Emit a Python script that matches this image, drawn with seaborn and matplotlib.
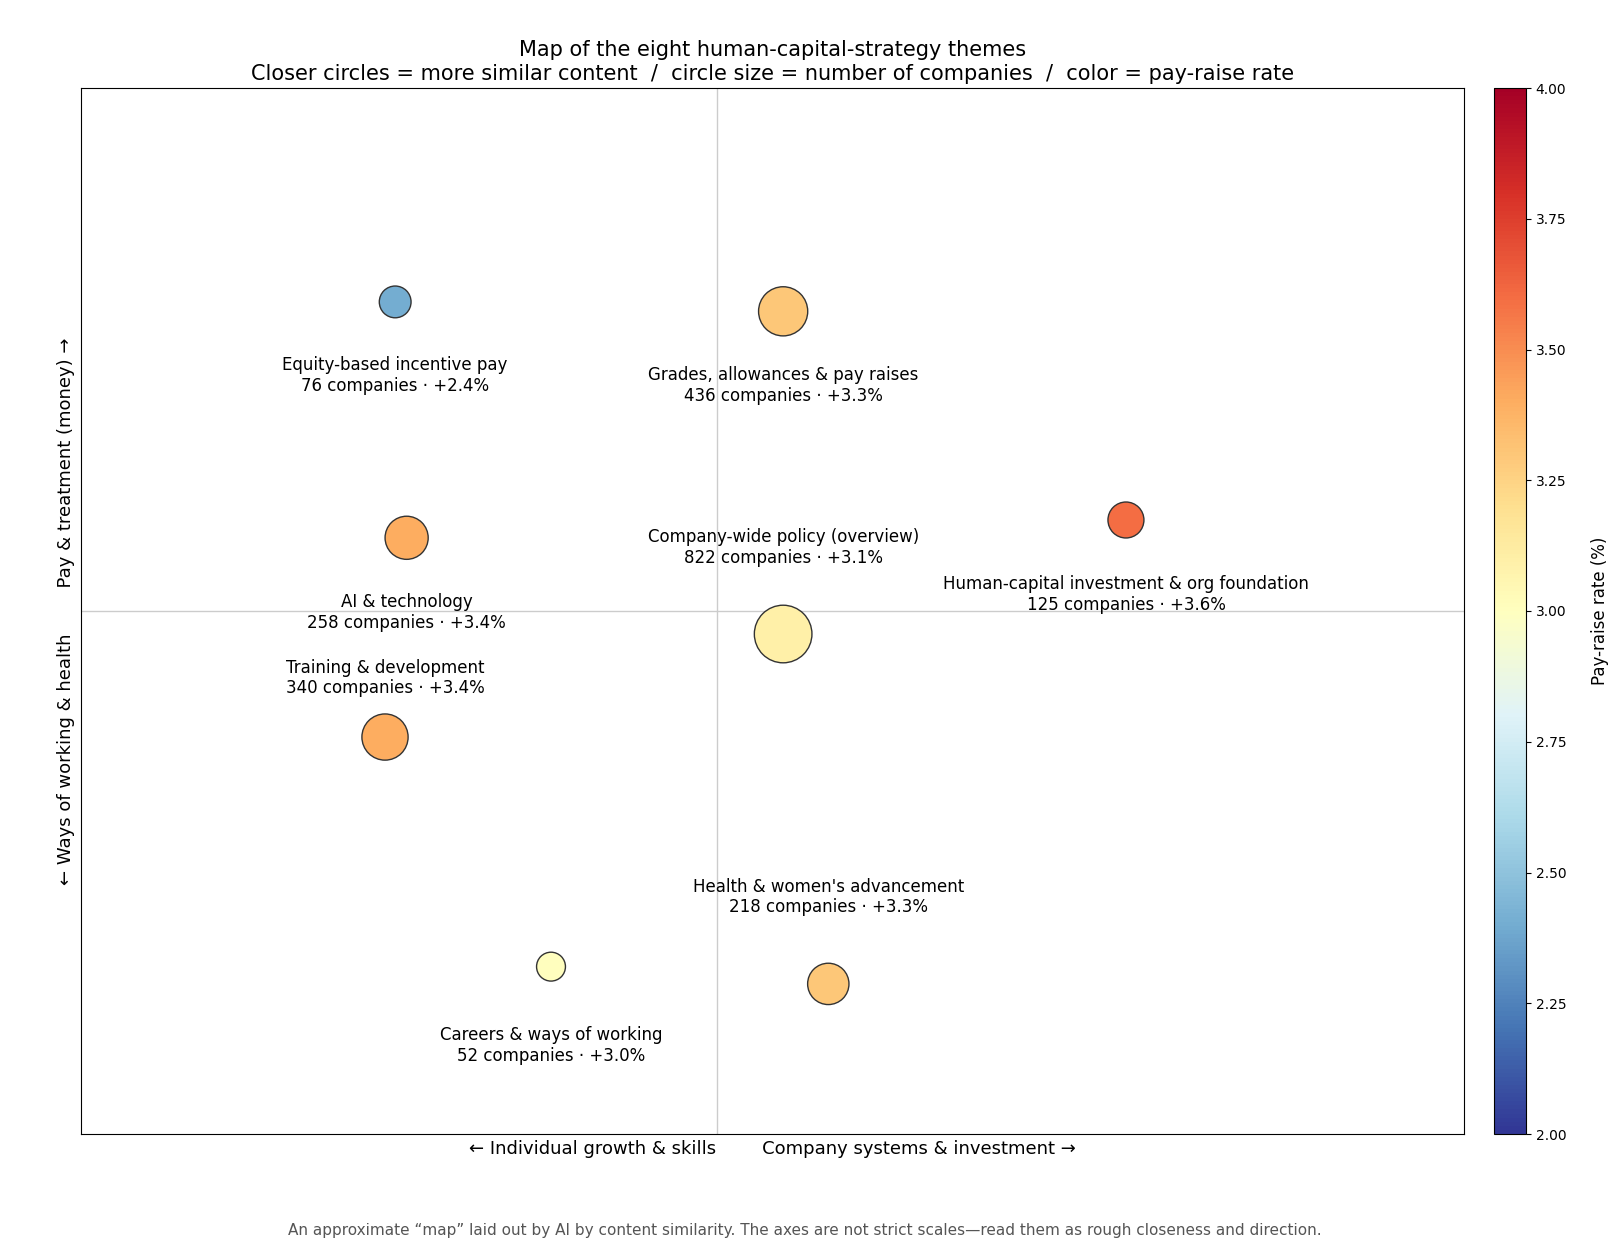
import numpy as np
import pandas as pd
import matplotlib
matplotlib.use("Agg")
import matplotlib.pyplot as plt
import seaborn as sns

# ---- data ----
themes = [
    "Equity-based incentive pay",
    "Grades, allowances & pay raises",
    "AI & technology",
    "Human-capital investment & org foundation",
    "Company-wide policy (overview)",
    "Training & development",
    "Careers & ways of working",
    "Health & women's advancement",
]
map_x = [-0.506, 0.104, -0.488, 0.643, 0.104, -0.522, -0.261, 0.175]
map_y = [0.591, 0.573, 0.140, 0.174, -0.044, -0.241, -0.680, -0.713]
companies = [76, 436, 258, 125, 822, 340, 52, 218]
pay_raise = [2.4, 3.3, 3.4, 3.6, 3.1, 3.4, 3.0, 3.3]

# label offsets (points) relative to each circle
label_dy = [-53.2, -53.6, -54.0, -53.6, 62.5, 42.5, -56.5, 62.5]

df = pd.DataFrame({"theme": themes, "x": map_x, "y": map_y,
                   "companies": companies, "rate": pay_raise})

fig = plt.figure(figsize=(16.1, 12.6), dpi=100)
ax = fig.add_axes([81 / 1610, 1 - 1134 / 1260, (1464 - 81) / 1610, (1134 - 88) / 1260])
cax = fig.add_axes([1494 / 1610, 1 - 1134 / 1260, 32 / 1610, (1134 - 88) / 1260])

ax.axhline(0, color="#cccccc", lw=1, zorder=0)
ax.axvline(0, color="#cccccc", lw=1, zorder=0)

size_map = {n: 60 * np.sqrt(n) for n in companies}
sns.scatterplot(data=df, x="x", y="y", hue="rate", palette="RdYlBu_r",
                hue_norm=(2, 4), size="companies", sizes=size_map,
                edgecolor="#333333", linewidth=1, alpha=1.0,
                legend=False, ax=ax, zorder=3)

for t, xx, yy, n, r, dy in zip(themes, map_x, map_y, companies, pay_raise, label_dy):
    ax.annotate(f"{t}\n{n} companies \u00b7 +{r:.1f}%", (xx, yy),
                xytext=(0, dy), textcoords="offset points",
                ha="center", va="center", fontsize=12)

ax.set_xlim(-1, 747 / 636)
ax.set_ylim(-1, 1)
ax.set_xticks([])
ax.set_yticks([])
ax.set_xlabel("\u2190 Individual growth & skills        Company systems & investment \u2192",
              fontsize=13)
ax.set_ylabel("\u2190 Ways of working & health        Pay & treatment (money) \u2192",
              fontsize=13)
ax.set_title("Map of the eight human-capital-strategy themes\n"
             "Closer circles = more similar content  /  circle size = number of companies  /  color = pay-raise rate",
             fontsize=15)

sm = matplotlib.cm.ScalarMappable(norm=matplotlib.colors.Normalize(2, 4),
                                  cmap="RdYlBu_r")
cb = fig.colorbar(sm, cax=cax)
cb.set_label("Pay-raise rate (%)", fontsize=12, labelpad=17.5)
cb.set_ticks(np.arange(2.0, 4.01, 0.25))
cb.ax.yaxis.set_major_formatter(matplotlib.ticker.FormatStrFormatter("%.2f"))

fig.text(0.5, 0.0175, "An approximate \u201cmap\u201d laid out by AI by content similarity. "
         "The axes are not strict scales\u2014read them as rough closeness and direction.",
         ha="center", va="bottom", fontsize=11, color="#555555")

fig.savefig("out.png", dpi=100)
